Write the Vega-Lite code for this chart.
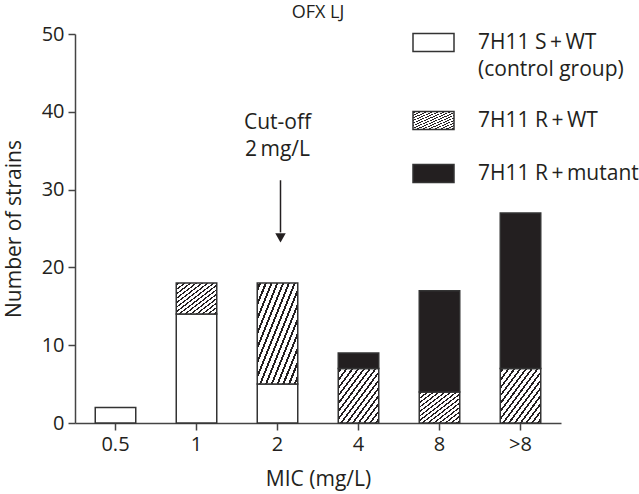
{
  "$schema": "https://vega.github.io/schema/vega-lite/v6.json",
  "width": 486,
  "height": 389,
  "autosize": {"type": "none"},
  "padding": {"left": 75, "top": 34, "right": 78, "bottom": 71},
  "background": "white",
  "config": {
    "font": "Open Sans",
    "view": {"stroke": null},
    "axis": {"grid": false, "domainColor": "#444", "tickColor": "#444", "domainWidth": 1.5, "tickWidth": 1.5, "tickSize": 7, "labelFont": "Open Sans", "labelFontSize": 20, "labelColor": "#231f20", "titleFont": "Open Sans", "titleFontSize": 21, "titleFontWeight": "normal", "titleColor": "#231f20"}
  },
  "title": {"text": "OFX LJ", "fontSize": 18, "fontWeight": "normal", "font": "Open Sans", "color": "#231f20", "offset": -1},
  "datasets": {
    "bars": [
      {"mic": "0.5", "group": "7H11 S\u2009+\u2009WT", "n": 2, "ord": 1},
      {"mic": "1", "group": "7H11 S\u2009+\u2009WT", "n": 14, "ord": 1},
      {"mic": "1", "group": "7H11 R\u2009+\u2009WT", "n": 4, "ord": 2},
      {"mic": "2", "group": "7H11 S\u2009+\u2009WT", "n": 5, "ord": 1},
      {"mic": "2", "group": "7H11 R\u2009+\u2009WT", "n": 13, "ord": 2},
      {"mic": "4", "group": "7H11 R\u2009+\u2009WT", "n": 7, "ord": 2},
      {"mic": "4", "group": "7H11 R\u2009+\u2009mutant", "n": 2, "ord": 3},
      {"mic": "8", "group": "7H11 R\u2009+\u2009WT", "n": 4, "ord": 2},
      {"mic": "8", "group": "7H11 R\u2009+\u2009mutant", "n": 13, "ord": 3},
      {"mic": ">8", "group": "7H11 R\u2009+\u2009WT", "n": 7, "ord": 2},
      {"mic": ">8", "group": "7H11 R\u2009+\u2009mutant", "n": 20, "ord": 3}
    ],
    "notes": [
      {"mic": "2", "y": 38.6, "label": "Cut-off"},
      {"mic": "2", "y": 35.1, "label": "2\u2009mg/L"}
    ],
    "arrow": [
      {"mic": "2", "y": 31.2, "y2": 24.5, "tip": 23.8}
    ]
  },
  "layer": [
    {
      "data": {"name": "bars"},
      "mark": {"type": "bar", "stroke": "#333", "strokeWidth": 1.5},
      "encoding": {
        "x": {"field": "mic", "type": "nominal", "sort": ["0.5", "1", "2", "4", "8", ">8"], "scale": {"paddingInner": 0.5, "paddingOuter": 0.25}, "axis": {"title": "MIC (mg/L)", "labelAngle": 0, "labelPadding": 4, "titlePadding": 14}},
        "y": {"field": "n", "type": "quantitative", "stack": "zero", "scale": {"domain": [0, 50], "nice": false}, "axis": {"title": "Number of strains", "values": [0, 10, 20, 30, 40, 50], "labelPadding": 4, "titlePadding": 17}},
        "order": {"field": "ord", "type": "ordinal"},
        "fill": {
          "condition": {"test": "datum.group == '7H11 R\u2009+\u2009WT'", "value": {"gradient": "linear", "x1": 0, "y1": 0, "x2": 1, "y2": 1, "stops": [
                {"offset": 0, "color": "white"},
                {"offset": 0.023, "color": "white"}, {"offset": 0.023, "color": "#231f20"}, {"offset": 0.048, "color": "#231f20"}, {"offset": 0.048, "color": "white"},
                {"offset": 0.0944, "color": "white"}, {"offset": 0.0944, "color": "#231f20"}, {"offset": 0.1194, "color": "#231f20"}, {"offset": 0.1194, "color": "white"},
                {"offset": 0.1659, "color": "white"}, {"offset": 0.1659, "color": "#231f20"}, {"offset": 0.1909, "color": "#231f20"}, {"offset": 0.1909, "color": "white"},
                {"offset": 0.2373, "color": "white"}, {"offset": 0.2373, "color": "#231f20"}, {"offset": 0.2623, "color": "#231f20"}, {"offset": 0.2623, "color": "white"},
                {"offset": 0.3087, "color": "white"}, {"offset": 0.3087, "color": "#231f20"}, {"offset": 0.3337, "color": "#231f20"}, {"offset": 0.3337, "color": "white"},
                {"offset": 0.3801, "color": "white"}, {"offset": 0.3801, "color": "#231f20"}, {"offset": 0.4051, "color": "#231f20"}, {"offset": 0.4051, "color": "white"},
                {"offset": 0.4516, "color": "white"}, {"offset": 0.4516, "color": "#231f20"}, {"offset": 0.4766, "color": "#231f20"}, {"offset": 0.4766, "color": "white"},
                {"offset": 0.523, "color": "white"}, {"offset": 0.523, "color": "#231f20"}, {"offset": 0.548, "color": "#231f20"}, {"offset": 0.548, "color": "white"},
                {"offset": 0.5944, "color": "white"}, {"offset": 0.5944, "color": "#231f20"}, {"offset": 0.6194, "color": "#231f20"}, {"offset": 0.6194, "color": "white"},
                {"offset": 0.6659, "color": "white"}, {"offset": 0.6659, "color": "#231f20"}, {"offset": 0.6909, "color": "#231f20"}, {"offset": 0.6909, "color": "white"},
                {"offset": 0.7373, "color": "white"}, {"offset": 0.7373, "color": "#231f20"}, {"offset": 0.7623, "color": "#231f20"}, {"offset": 0.7623, "color": "white"},
                {"offset": 0.8087, "color": "white"}, {"offset": 0.8087, "color": "#231f20"}, {"offset": 0.8337, "color": "#231f20"}, {"offset": 0.8337, "color": "white"},
                {"offset": 0.8801, "color": "white"}, {"offset": 0.8801, "color": "#231f20"}, {"offset": 0.9051, "color": "#231f20"}, {"offset": 0.9051, "color": "white"},
                {"offset": 0.9516, "color": "white"}, {"offset": 0.9516, "color": "#231f20"}, {"offset": 0.9766, "color": "#231f20"}, {"offset": 0.9766, "color": "white"},
                {"offset": 1, "color": "white"}
              ]}},
          "field": "group", "type": "nominal",
          "scale": {
            "domain": ["7H11 S\u2009+\u2009WT", "7H11 R\u2009+\u2009WT", "7H11 R\u2009+\u2009mutant"],
            "range": ["white", "url(#gradient_0)", "#231f20"]
          },
          "legend": {
            "title": null,
            "orient": "none",
            "legendX": 337,
            "legendY": -13,
            "padding": 0,
            "symbolType": "M-1,-0.44H1V0.44H-1Z",
            "symbolSize": 1681,
            "symbolStrokeColor": "#333",
            "symbolStrokeWidth": 1.5,
            "symbolOpacity": 1,
            "labelFont": "Open Sans",
            "labelFontSize": 21,
            "labelColor": "#231f20",
            "labelOffset": 23,
            "labelLimit": 400,
            "rowPadding": 19,
            "labelExpr": "datum.label == '7H11 S\u2009+\u2009WT' ? [datum.label, '(control group)'] : datum.label",
            "encode": {
              "labels": {"update": {"lineHeight": {"value": 27}}},
              "symbols": {"update": {
                "stroke": {"value": "#333"},
                "strokeWidth": {"value": 1.5}
              }}
            }
          }
        }
      }
    },
    {
      "data": {"name": "notes"},
      "mark": {"type": "text", "font": "Open Sans", "fontSize": 21, "color": "#231f20", "baseline": "middle", "align": "center"},
      "encoding": {
        "x": {"field": "mic", "type": "nominal", "sort": ["0.5", "1", "2", "4", "8", ">8"]},
        "y": {"field": "y", "type": "quantitative"},
        "text": {"field": "label"}
      }
    },
    {
      "data": {"name": "arrow"},
      "mark": {"type": "rule", "color": "#231f20", "strokeWidth": 1.5, "xOffset": 3},
      "encoding": {
        "x": {"field": "mic", "type": "nominal", "sort": ["0.5", "1", "2", "4", "8", ">8"]},
        "y": {"field": "y", "type": "quantitative"},
        "y2": {"field": "y2"}
      }
    },
    {
      "data": {"name": "arrow"},
      "mark": {"type": "point", "shape": "triangle-down", "filled": true, "color": "#231f20", "size": 110, "opacity": 1, "xOffset": 3},
      "encoding": {
        "x": {"field": "mic", "type": "nominal", "sort": ["0.5", "1", "2", "4", "8", ">8"]},
        "y": {"field": "tip", "type": "quantitative"}
      }
    }
  ]
}
